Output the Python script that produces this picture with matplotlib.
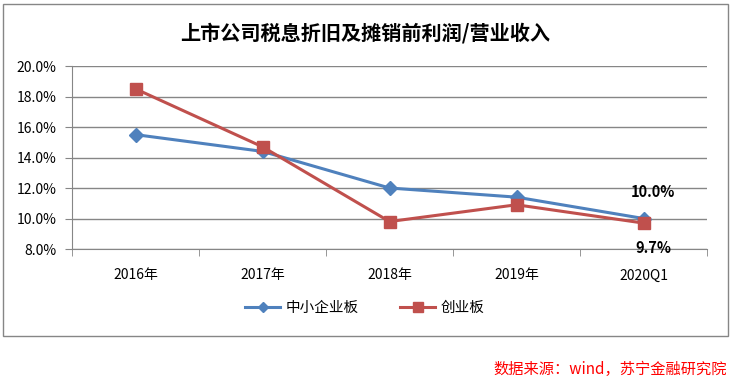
import matplotlib.pyplot as plt
from matplotlib.patches import Rectangle
from matplotlib.ticker import FuncFormatter

plt.rcParams['font.family'] = ['Noto Sans CJK SC', 'DejaVu Sans']

categories = ['2016年', '2017年', '2018年', '2019年', '2020Q1']
sme_board = [15.5, 14.4, 12.0, 11.4, 10.0]      # 中小企业板
chinext = [18.5, 14.7, 9.8, 10.9, 9.7]          # 创业板
y_ticks = [8, 10, 12, 14, 16, 18, 20]

blue = '#4F81BD'
red = '#C0504D'
grey = '#868686'

fig = plt.figure(figsize=(7.31, 3.80), dpi=100)
ax = fig.add_axes([72 / 731, 1 - 249 / 380, 635 / 731, 183 / 380])

x = list(range(len(categories)))
ax.plot(x, sme_board, color=blue, lw=2.2, marker='D', ms=7, label='中小企业板', zorder=3)
ax.plot(x, chinext, color=red, lw=2.2, marker='s', ms=9, label='创业板', zorder=4)

ax.set_xlim(-0.5, len(categories) - 0.5)
ax.set_ylim(8, 20)
ax.set_yticks(y_ticks)
ax.yaxis.set_major_formatter(FuncFormatter(lambda v, p: f'{v:.1f}%'))
ax.set_xticks(x)
ax.set_xticklabels(categories)
ax.set_xticks([i - 0.5 for i in range(len(categories) + 1)], minor=True)
ax.tick_params(axis='x', which='major', length=0, pad=14, labelsize=10)
ax.tick_params(axis='x', which='minor', length=5, color=grey)
ax.tick_params(axis='y', length=5, color=grey, labelsize=10, pad=6)

ax.grid(axis='y', color=grey, lw=1)
ax.set_axisbelow(True)
for s in ['top', 'right']:
    ax.spines[s].set_visible(False)
ax.spines['left'].set_color(grey)
ax.spines['bottom'].set_color(grey)

ax.annotate(f'{sme_board[-1]:.1f}%', (x[-1], sme_board[-1]), xytext=(7, 19),
            textcoords='offset points', ha='center', va='center',
            fontsize=10.5, fontweight='bold')
ax.annotate(f'{chinext[-1]:.1f}%', (x[-1], chinext[-1]), xytext=(7, -18),
            textcoords='offset points', ha='center', va='center',
            fontsize=10.5, fontweight='bold')

fig.text(0.5, 1 - 33 / 380, '上市公司税息折旧及摊销前利润/营业收入',
         ha='center', va='center', fontsize=14.5, fontweight='bold')

fig.legend(loc='center', bbox_to_anchor=(365 / 731, 1 - 308 / 380), ncol=2,
           frameon=False, fontsize=10.5, handlelength=2.4, columnspacing=2.8,
           handletextpad=0.4, markerscale=0.8)

fig.patches.append(Rectangle((3 / 731, 1 - 336 / 380), 725 / 731, 332 / 380,
                             transform=fig.transFigure, fill=False,
                             edgecolor=grey, lw=1))

fig.text(727 / 731, 1 - 369 / 380, '数据来源：wind，苏宁金融研究院',
         ha='right', va='center', fontsize=11, color='red', style='italic')

fig.savefig('out.png', dpi=100)
